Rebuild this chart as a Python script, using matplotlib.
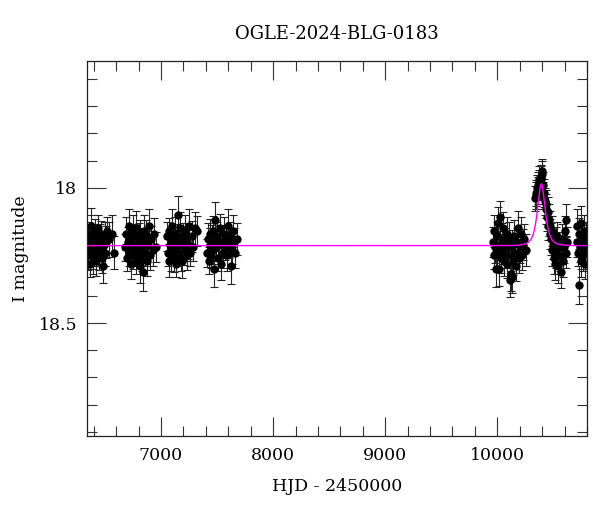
import numpy as np
import matplotlib
matplotlib.use("Agg")
import matplotlib.pyplot as plt

plt.rcParams['font.family'] = 'serif'
plt.rcParams['font.serif'] = ['DejaVu Serif']

title = "OGLE-2024-BLG-0183"

# photometry, one list per observing season (HJD - 2450000, I mag, error)
t1 = [6346, 6352, 6358, 6363, 6369, 6374, 6380, 6386, 6391, 6397, 6403, 6409, 6415, 6421, 6428, 6434,
      6441, 6447, 6454, 6461, 6468, 6475, 6482, 6489, 6497, 6505, 6513, 6521, 6540, 6562, 6577]
m1 = [18.20, 18.25, 18.17, 18.23, 18.28, 18.19, 18.14, 18.22, 18.26, 18.18, 18.24, 18.21, 18.16, 18.27, 18.20, 18.23,
      18.15, 18.25, 18.19, 18.22, 18.17, 18.26, 18.29, 18.21, 18.18, 18.24, 18.20, 18.16, 18.19, 18.17, 18.24]
e1 = [0.050, 0.055, 0.045, 0.060, 0.050, 0.048, 0.065, 0.052, 0.058, 0.047, 0.050, 0.062, 0.045, 0.055, 0.050, 0.060,
      0.048, 0.052, 0.057, 0.050, 0.046, 0.055, 0.060, 0.050, 0.053, 0.048, 0.058, 0.050, 0.065, 0.070, 0.060]

t2 = [6683, 6690, 6697, 6704, 6711, 6718, 6725, 6732, 6739, 6746, 6753, 6760, 6767, 6774, 6781, 6788, 6795, 6802,
      6809, 6816, 6823, 6830, 6838, 6845, 6852, 6860, 6868, 6876, 6885, 6894, 6903, 6913, 6925, 6940, 6958]
m2 = [18.22, 18.17, 18.26, 18.20, 18.14, 18.24, 18.19, 18.28, 18.21, 18.16, 18.25, 18.18, 18.23, 18.27, 18.15, 18.21,
      18.24, 18.19, 18.29, 18.17, 18.22, 18.26, 18.31, 18.20, 18.16, 18.24, 18.18, 18.27, 18.21, 18.14, 18.25, 18.19,
      18.23, 18.17, 18.22]
e2 = [0.050, 0.060, 0.048, 0.055, 0.062, 0.050, 0.045, 0.058, 0.052, 0.060, 0.050, 0.047, 0.055, 0.050, 0.065, 0.052,
      0.048, 0.058, 0.060, 0.050, 0.054, 0.047, 0.070, 0.052, 0.058, 0.050, 0.062, 0.055, 0.050, 0.060, 0.053, 0.048,
      0.060, 0.058, 0.055]

t3 = [7056, 7062, 7068, 7074, 7080, 7086, 7092, 7098, 7104, 7110, 7116, 7122, 7128, 7134, 7140, 7148, 7155, 7162,
      7169, 7176, 7183, 7190, 7197, 7204, 7212, 7220, 7228, 7236, 7245, 7254, 7263, 7273, 7285, 7300, 7318]
m3 = [18.18, 18.24, 18.27, 18.16, 18.21, 18.25, 18.19, 18.14, 18.23, 18.20, 18.26, 18.17, 18.22, 18.28, 18.19, 18.10,
      18.24, 18.21, 18.15, 18.26, 18.20, 18.27, 18.18, 18.23, 18.16, 18.22, 18.25, 18.19, 18.21, 18.14, 18.24, 18.18,
      18.22, 18.15, 18.16]
e3 = [0.055, 0.050, 0.060, 0.048, 0.052, 0.058, 0.050, 0.062, 0.047, 0.055, 0.050, 0.060, 0.052, 0.048, 0.057, 0.070,
      0.050, 0.054, 0.060, 0.048, 0.052, 0.065, 0.050, 0.057, 0.060, 0.050, 0.053, 0.048, 0.055, 0.062, 0.050, 0.058,
      0.052, 0.060, 0.055]

t4 = [7412, 7419, 7426, 7433, 7440, 7447, 7454, 7461, 7468, 7476, 7485, 7493, 7501, 7509, 7517, 7525, 7536, 7545,
      7554, 7563, 7572, 7581, 7590, 7599, 7608, 7617, 7625, 7634, 7643, 7652, 7662, 7675]
m4 = [18.24, 18.19, 18.27, 18.21, 18.17, 18.25, 18.20, 18.23, 18.16, 18.30, 18.12, 18.22, 18.18, 18.26, 18.20, 18.15,
      18.28, 18.21, 18.24, 18.17, 18.22, 18.19, 18.25, 18.14, 18.21, 18.18, 18.29, 18.23, 18.16, 18.20, 18.24, 18.19]
e4 = [0.052, 0.058, 0.050, 0.060, 0.055, 0.048, 0.062, 0.050, 0.057, 0.065, 0.068, 0.050, 0.055, 0.048, 0.060, 0.052,
      0.062, 0.050, 0.055, 0.060, 0.048, 0.053, 0.058, 0.060, 0.050, 0.055, 0.065, 0.050, 0.058, 0.052, 0.055, 0.060]

t5 = [9962, 9968, 9975, 9981, 9987, 9994, 10000, 10006, 10012, 10019, 10027, 10034, 10041, 10048, 10055, 10062,
      10069, 10076, 10083, 10090, 10097, 10104, 10111, 10118, 10121, 10128, 10135, 10142, 10150, 10158, 10166, 10174,
      10182, 10190, 10199, 10208, 10218, 10229, 10241, 10252]
m5 = [18.20, 18.16, 18.25, 18.22, 18.30, 18.18, 18.24, 18.13, 18.30, 18.21, 18.11, 18.26, 18.19, 18.23, 18.15, 18.27,
      18.20, 18.24, 18.17, 18.28, 18.22, 18.19, 18.34, 18.25, 18.32, 18.33, 18.21, 18.27, 18.18, 18.24, 18.29, 18.20,
      18.15, 18.26, 18.22, 18.17, 18.25, 18.21, 18.19, 18.23]
e5 = [0.055, 0.060, 0.050, 0.058, 0.065, 0.052, 0.055, 0.060, 0.062, 0.050, 0.062, 0.055, 0.058, 0.050, 0.060, 0.055,
      0.052, 0.058, 0.060, 0.055, 0.050, 0.062, 0.065, 0.058, 0.062, 0.060, 0.055, 0.052, 0.060, 0.058, 0.055, 0.050,
      0.062, 0.055, 0.058, 0.060, 0.052, 0.058, 0.055, 0.060]

t6 = [10336, 10342, 10348, 10354, 10360, 10365, 10370, 10376, 10381, 10386, 10391, 10396, 10401, 10406, 10412,
      10418, 10424, 10430, 10436, 10442, 10448, 10454, 10460, 10466, 10472, 10478, 10485, 10492, 10499, 10506,
      10513, 10520, 10527, 10535, 10543, 10551, 10559, 10567, 10575, 10583, 10591, 10600, 10610, 10616, 10624]
m6 = [18.04, 18.02, 18.03, 18.00, 18.01, 17.99, 17.98, 17.97, 18.00, 17.96, 17.97, 17.95, 17.94, 17.99, 18.03,
      18.02, 18.05, 18.08, 18.06, 18.11, 18.09, 18.14, 18.12, 18.17, 18.14, 18.19, 18.16, 18.23, 18.21, 18.26,
      18.28, 18.20, 18.24, 18.18, 18.29, 18.22, 18.25, 18.31, 18.19, 18.27, 18.22, 18.16, 18.12, 18.24, 18.20]
e6 = [0.045, 0.048, 0.050, 0.045, 0.050, 0.048, 0.045, 0.050, 0.047, 0.045, 0.048, 0.050, 0.045, 0.048, 0.050,
      0.052, 0.050, 0.055, 0.052, 0.050, 0.055, 0.052, 0.058, 0.055, 0.052, 0.058, 0.055, 0.060, 0.055, 0.058,
      0.060, 0.055, 0.058, 0.052, 0.060, 0.055, 0.058, 0.062, 0.055, 0.060, 0.058, 0.055, 0.060, 0.058, 0.055]

t7 = [10708, 10714, 10720, 10726, 10732, 10738, 10744, 10750, 10756, 10762, 10768, 10774, 10780, 10786, 10792]
m7 = [18.20, 18.14, 18.24, 18.17, 18.36, 18.22, 18.27, 18.13, 18.19, 18.25, 18.21, 18.16, 18.23, 18.28, 18.18]
e7 = [0.055, 0.060, 0.050, 0.058, 0.070, 0.055, 0.060, 0.062, 0.052, 0.058, 0.055, 0.060, 0.050, 0.058, 0.055]

# point-lens model
t0 = 10393.0
tE = 37.0
u0 = 1.19
base_mag = 18.214

xlim = (6340, 10795)
ylim = (18.916, 17.533)

hjd = np.concatenate([t1, t2, t3, t4, t5, t6, t7])
mag = np.concatenate([m1, m2, m3, m4, m5, m6, m7])
err = np.concatenate([e1, e2, e3, e4, e5, e6, e7])

tm = np.linspace(xlim[0], xlim[1], 3000)
u = np.sqrt(u0**2 + ((tm - t0) / tE)**2)
A = (u**2 + 2) / (u * np.sqrt(u**2 + 4))
model = base_mag - 2.5 * np.log10(A)

fig = plt.figure(figsize=(6.0, 5.12), dpi=100)
ax = fig.add_axes([0.145, 0.1484, 0.8333, 0.7325])

ax.errorbar(hjd, mag, yerr=err, fmt='o', color='black', ms=5, ecolor='#222222',
            elinewidth=0.8, capsize=3, capthick=0.8, zorder=2)
ax.plot(tm, model, color='#ff00ff', lw=1.0, zorder=3)

ax.set_xlim(*xlim)
ax.set_ylim(*ylim)

ax.set_xticks([7000, 8000, 9000, 10000])
ax.set_xticks(np.arange(6400, 10801, 200), minor=True)
ax.set_yticks([18.0, 18.5])
ax.set_yticklabels(['18', '18.5'])
ax.set_yticks(np.arange(17.6, 18.95, 0.1), minor=True)

ax.tick_params(which='both', direction='in', top=True, right=True, labelsize=12.5, color='#333333')
ax.tick_params(which='major', length=13.5, width=0.8)
ax.tick_params(which='minor', length=7.2, width=0.8)
ax.tick_params(axis='x', pad=8)
ax.tick_params(axis='y', pad=7)
for s in ax.spines.values():
    s.set_linewidth(0.9)
    s.set_color('#222222')

ax.set_xlabel('HJD - 2450000', fontsize=12.5, labelpad=10)
ax.set_ylabel('I magnitude', fontsize=12.5, labelpad=7)
ax.set_title(title, fontsize=13, pad=16)

fig.savefig('out.png', dpi=100)
